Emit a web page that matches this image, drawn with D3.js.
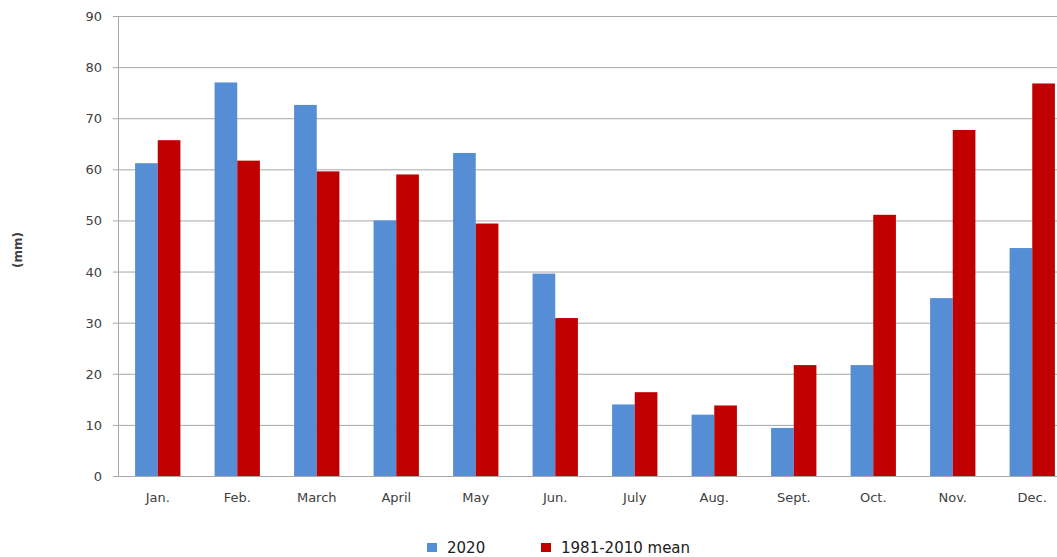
<!doctype html>
<html>
<head>
<script src="https://cdnjs.cloudflare.com/ajax/libs/d3/7.8.5/d3.min.js"></script>
<style>
  body { margin: 0; background: #fff; }
  text { font-family: "DejaVu Sans", Verdana, sans-serif; }
</style>
</head>
<body>
<svg width="1057" height="557"></svg>
<script>
var months = ["Jan.", "Feb.", "March", "April", "May", "Jun.", "July", "Aug.", "Sept.", "Oct.", "Nov.", "Dec."];
var values2020 = [61.2, 77, 72.6, 50, 63.2, 39.6, 14, 12, 9.4, 21.7, 34.8, 44.6];
var valuesMean = [65.7, 61.7, 59.6, 59, 49.4, 30.9, 16.4, 13.8, 21.7, 51.1, 67.7, 76.8];
var seriesNames = ["2020", "1981-2010 mean"];
var yTicks = [0, 10, 20, 30, 40, 50, 60, 70, 80, 90];

var colors = ["#558ED5", "#C00000"];
var svg = d3.select("svg");

var x0 = d3.scaleBand().domain(months).range([118, 1072]).paddingInner(0.43).paddingOuter(0.215);
var x1 = d3.scaleBand().domain(seriesNames).range([0, x0.bandwidth()]);
var y = d3.scaleLinear().domain([0, 90]).range([476, 16]);

// grid lines
svg.append("g")
  .selectAll("line")
  .data(yTicks)
  .enter().append("line")
  .attr("x1", 113).attr("x2", 1057)
  .attr("y1", d => y(d) + 0.5).attr("y2", d => y(d) + 0.5)
  .style("stroke", "#a8a8a8").style("stroke-width", 1);

// y axis line
svg.append("line")
  .attr("x1", 118.5).attr("x2", 118.5)
  .attr("y1", y(90)).attr("y2", y(0))
  .style("stroke", "#a8a8a8");

svg.append("g")
  .selectAll("text")
  .data(yTicks)
  .enter().append("text")
  .attr("x", 102).attr("y", d => y(d) + 5)
  .attr("text-anchor", "end")
  .style("font-size", "13px").style("fill", "#404040")
  .text(d => d);

// bars
var data = months.map((m, i) => ({month: m, vals: [values2020[i], valuesMean[i]]}));
var groups = svg.append("g")
  .selectAll("g")
  .data(data)
  .enter().append("g")
  .attr("transform", d => "translate(" + x0(d.month) + ",0)");

groups.selectAll("rect")
  .data(d => d.vals.map((v, j) => ({key: seriesNames[j], v: v, j: j})))
  .enter().append("rect")
  .attr("x", d => x1(d.key))
  .attr("width", x1.bandwidth())
  .attr("y", d => y(d.v))
  .attr("height", d => y(0) - y(d.v))
  .style("fill", d => colors[d.j]);

// x axis line
svg.append("line")
  .attr("x1", 118).attr("x2", 1057)
  .attr("y1", 476.5).attr("y2", 476.5)
  .style("stroke", "#a8a8a8");

svg.append("g")
  .selectAll("text")
  .data(months)
  .enter().append("text")
  .attr("x", d => x0(d) + x0.bandwidth() / 2)
  .attr("y", 502)
  .attr("text-anchor", "middle")
  .style("font-size", "13px").style("fill", "#404040")
  .text(d => d);

// y label
svg.append("text")
  .attr("transform", "translate(22,250) rotate(-90)")
  .attr("text-anchor", "middle")
  .style("font-size", "12px").style("font-weight", "bold").style("fill", "#404040")
  .text("(mm)");

// legend
var legendX = [427, 541];
var legend = svg.append("g")
  .selectAll("g")
  .data(seriesNames)
  .enter().append("g")
  .attr("transform", (d, i) => "translate(" + legendX[i] + ",543)");
legend.append("rect")
  .attr("width", 10).attr("height", 9)
  .style("fill", (d, i) => colors[i]);
legend.append("text")
  .attr("x", 20).attr("y", 10)
  .style("font-size", "15px").style("fill", "#202020")
  .text(d => d);
</script>
</body>
</html>
